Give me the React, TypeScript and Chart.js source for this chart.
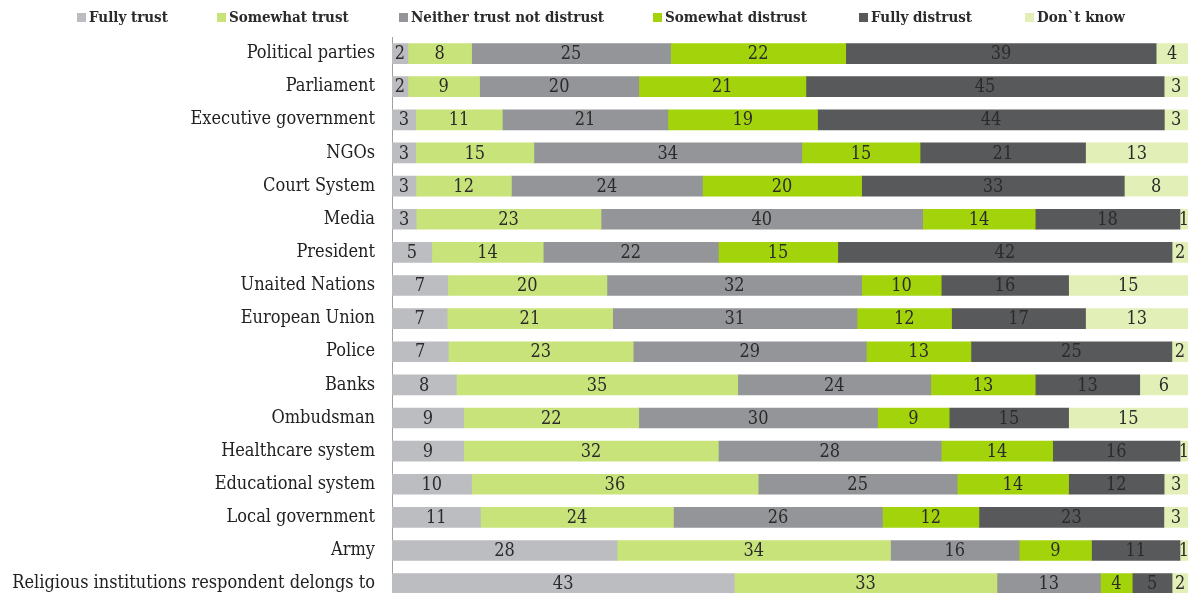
import React, { useEffect, useRef } from "react";
import { Chart, registerables } from "chart.js";

Chart.register(...registerables);

const categories = [
  "Political parties",
  "Parliament",
  "Executive government",
  "NGOs",
  "Court System",
  "Media",
  "President",
  "Unaited Nations",
  "European Union",
  "Police",
  "Banks",
  "Ombudsman",
  "Healthcare system",
  "Educational system",
  "Local government",
  "Army",
  "Religious institutions respondent delongs to",
];

const seriesNames = [
  "Fully trust",
  "Somewhat trust",
  "Neither trust not distrust",
  "Somewhat distrust",
  "Fully distrust",
  "Don`t know",
];

const fullyTrust = [2, 2, 3, 3, 3, 3, 5, 7, 7, 7, 8, 9, 9, 10, 11, 28, 43];
const somewhatTrust = [8, 9, 11, 15, 12, 23, 14, 20, 21, 23, 35, 22, 32, 36, 24, 34, 33];
const neitherTrust = [25, 20, 21, 34, 24, 40, 22, 32, 31, 29, 24, 30, 28, 25, 26, 16, 13];
const somewhatDistrust = [22, 21, 19, 15, 20, 14, 15, 10, 12, 13, 13, 9, 14, 14, 12, 9, 4];
const fullyDistrust = [39, 45, 44, 21, 33, 18, 42, 16, 17, 25, 13, 15, 16, 12, 23, 11, 5];
const dontKnow = [4, 3, 3, 13, 8, 1, 2, 15, 13, 2, 6, 15, 1, 3, 3, 1, 2];

const seriesValues = [fullyTrust, somewhatTrust, neitherTrust, somewhatDistrust, fullyDistrust, dontKnow];

const colors = ["#bcbdc0", "#c9e37b", "#939598", "#a3d30b", "#58595b", "#e2efb6"];

// legend layout (positions of legend boxes)
const legendBoxX = [77, 217, 399, 653, 859, 1025];

const SERIF = "'DejaVu Serif Condensed', 'DejaVu Serif', serif";

const rowTotals = categories.map((_, i) =>
  seriesValues.reduce((s, arr) => s + arr[i], 0)
);

const valueLabels = {
  id: "valueLabels",
  afterDatasetsDraw(chart: any) {
    const ctx = chart.ctx;
    ctx.save();
    ctx.font = `18px ${SERIF}`;
    ctx.fillStyle = "#2b2b2b";
    ctx.textAlign = "center";
    ctx.textBaseline = "middle";
    chart.data.datasets.forEach((ds: any, di: number) => {
      const meta = chart.getDatasetMeta(di);
      meta.data.forEach((el: any, i: number) => {
        const raw = ds.rawValues[i];
        const x = (el.x + el.base) / 2;
        ctx.fillText(String(raw), x, el.y + 1);
      });
    });
    ctx.restore();
  },
};

const customLegend = {
  id: "customLegend",
  afterDraw(chart: any) {
    const ctx = chart.ctx;
    ctx.save();
    ctx.font = `bold 15px ${SERIF}`;
    ctx.textBaseline = "middle";
    ctx.textAlign = "left";
    seriesNames.forEach((name, i) => {
      const x = legendBoxX[i];
      ctx.fillStyle = colors[i];
      ctx.fillRect(x, 13, 9, 9);
      ctx.fillStyle = "#2b2b2b";
      ctx.fillText(name, x + 12, 18);
    });
    ctx.restore();
  },
};

export default function App() {
  const ref = useRef<HTMLCanvasElement>(null);

  useEffect(() => {
    if (!ref.current) return;
    const datasets = seriesValues.map((vals, si) => ({
      label: seriesNames[si],
      data: vals.map((v, i) => (v / rowTotals[i]) * 100),
      rawValues: vals,
      backgroundColor: colors[si],
      borderWidth: 0,
      barThickness: 20,
    }));
    const chart = new Chart(ref.current, {
      type: "bar",
      data: { labels: categories, datasets: datasets as any },
      options: {
        indexAxis: "y",
        responsive: false,
        animation: false,
        layout: { padding: { top: 37, right: 8, left: 0, bottom: 0 } },
        plugins: {
          legend: { display: false },
          tooltip: { enabled: false },
        },
        scales: {
          x: {
            stacked: true,
            min: 0,
            max: 100,
            display: false,
          },
          y: {
            stacked: true,
            grid: { display: false, drawTicks: false },
            border: { display: true, color: "#a0a0a0", width: 1 },
            ticks: {
              color: "#222",
              font: { family: SERIF, size: 18 },
              padding: 17,
              autoSkip: false,
            },
            afterFit(scale: any) {
              scale.width = 392;
            },
          },
        },
      },
      plugins: [valueLabels, customLegend],
    });
    return () => chart.destroy();
  }, []);

  return (
    <div
      style={{
        position: "fixed",
        left: 0,
        top: 0,
        width: 1196,
        height: 593,
        overflow: "hidden",
        background: "#fff",
      }}
    >
      <canvas ref={ref} width={1196} height={628} style={{ display: "block" }} />
    </div>
  );
}
